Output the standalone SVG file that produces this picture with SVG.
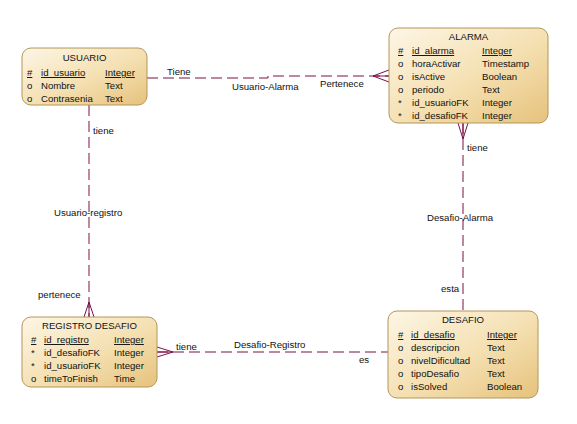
<svg xmlns="http://www.w3.org/2000/svg" width="577" height="424" viewBox="0 0 577 424">
  <defs>
    <linearGradient id="entityFill" x1="0" y1="0" x2="1" y2="1">
      <stop offset="0" stop-color="#fdf6e6"/>
      <stop offset="0.55" stop-color="#f4dfb0"/>
      <stop offset="1" stop-color="#e6c27c"/>
    </linearGradient>
  </defs>
  <style>
    text { font-family: "Liberation Sans", Arial, sans-serif; font-size: 9.6px; fill: #111; }
    .box { fill: url(#entityFill); stroke: #b49659; stroke-width: 1; }
    .title { text-anchor: middle; }
    .pk { text-decoration: underline; }
    .rel { fill: none; stroke: #7a1048; stroke-width: 1; stroke-dasharray: 11 5; }
    .foot { fill: none; stroke: #7a1048; stroke-width: 1; }
  </style>
  <rect width="577" height="424" fill="#ffffff"/>

  <!-- relationships -->
  <g id="connectors">
    <!-- Usuario-Alarma -->
    <path class="rel" d="M147 78 H268 V76 H389"/>
    <path class="foot" d="M389 70 L373 76 L389 82 M373 76 H389"/>
    <text x="167" y="75">Tiene</text>
    <text x="232" y="90">Usuario-Alarma</text>
    <text x="320" y="87">Pertenece</text>

    <!-- Usuario-registro -->
    <path class="rel" d="M89 105 V317"/>
    <path class="foot" d="M84 317 L89 302 L94 317 M89 302 V317"/>
    <text x="93" y="134">tiene</text>
    <text x="54" y="216">Usuario-registro</text>
    <text x="38" y="298">pertenece</text>

    <!-- Desafio-Alarma -->
    <path class="rel" d="M463 123 V311"/>
    <path class="foot" d="M458 123 L463 139 L468 123 M463 123 V139"/>
    <text x="467" y="151">tiene</text>
    <text x="427" y="221">Desafio-Alarma</text>
    <text x="441" y="292">esta</text>

    <!-- Desafio-Registro -->
    <path class="rel" d="M157 352 H388"/>
    <path class="foot" d="M157 347 L173 352 L157 357 M157 352 H173"/>
    <text x="176" y="350">tiene</text>
    <text x="234" y="348">Desafio-Registro</text>
    <text x="359" y="363">es</text>
  </g>

  <!-- USUARIO -->
  <g id="usuario">
    <rect class="box" x="22" y="48" width="125" height="57" rx="9"/>
    <text class="title" x="84.5" y="61">USUARIO</text>
    <text class="pk" x="27" y="76">#</text>
    <text class="pk" x="41" y="76">id_usuario</text>
    <text class="pk" x="105" y="76">Integer</text>
    <text x="27" y="89">o</text>
    <text x="41" y="89">Nombre</text>
    <text x="105" y="89">Text</text>
    <text x="27" y="102">o</text>
    <text x="41" y="102">Contrasenia</text>
    <text x="105" y="102">Text</text>
  </g>

  <!-- ALARMA -->
  <g id="alarma">
    <rect class="box" x="389" y="28" width="159" height="95" rx="9"/>
    <text class="title" x="468.5" y="40">ALARMA</text>
    <text class="pk" x="398" y="54">#</text>
    <text class="pk" x="412" y="54">id_alarma</text>
    <text class="pk" x="482" y="54">Integer</text>
    <text x="398" y="67">o</text>
    <text x="412" y="67">horaActivar</text>
    <text x="482" y="67">Timestamp</text>
    <text x="398" y="80">o</text>
    <text x="412" y="80">isActive</text>
    <text x="482" y="80">Boolean</text>
    <text x="398" y="93">o</text>
    <text x="412" y="93">periodo</text>
    <text x="482" y="93">Text</text>
    <text x="398" y="106">*</text>
    <text x="412" y="106">id_usuarioFK</text>
    <text x="482" y="106">Integer</text>
    <text x="398" y="119">*</text>
    <text x="412" y="119">id_desafioFK</text>
    <text x="482" y="119">Integer</text>
  </g>

  <!-- REGISTRO DESAFIO -->
  <g id="registro-desafio">
    <rect class="box" x="22" y="317" width="135" height="70" rx="9"/>
    <text class="title" x="89.5" y="329">REGISTRO DESAFIO</text>
    <text class="pk" x="31" y="343">#</text>
    <text class="pk" x="44" y="343">id_registro</text>
    <text class="pk" x="114" y="343">Integer</text>
    <text x="31" y="356">*</text>
    <text x="44" y="356">id_desafioFK</text>
    <text x="114" y="356">Integer</text>
    <text x="31" y="369">*</text>
    <text x="44" y="369">id_usuarioFK</text>
    <text x="114" y="369">Integer</text>
    <text x="31" y="382">o</text>
    <text x="44" y="382">timeToFinish</text>
    <text x="114" y="382">Time</text>
  </g>

  <!-- DESAFIO -->
  <g id="desafio">
    <rect class="box" x="388" y="311" width="150" height="87" rx="9"/>
    <text class="title" x="463" y="323">DESAFIO</text>
    <text class="pk" x="398" y="338">#</text>
    <text class="pk" x="411" y="338">id_desafio</text>
    <text class="pk" x="487" y="338">Integer</text>
    <text x="398" y="351">o</text>
    <text x="411" y="351">descripcion</text>
    <text x="487" y="351">Text</text>
    <text x="398" y="364">o</text>
    <text x="411" y="364">nivelDificultad</text>
    <text x="487" y="364">Text</text>
    <text x="398" y="377">o</text>
    <text x="411" y="377">tipoDesafio</text>
    <text x="487" y="377">Text</text>
    <text x="398" y="390">o</text>
    <text x="411" y="390">isSolved</text>
    <text x="487" y="390">Boolean</text>
  </g>
</svg>
